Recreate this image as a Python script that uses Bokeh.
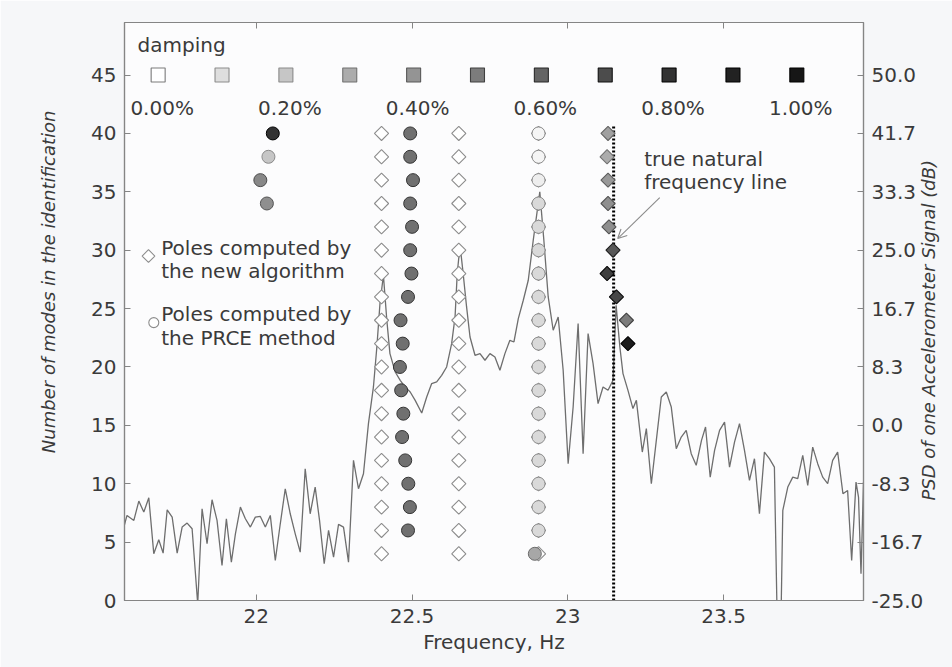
import math
from bokeh.plotting import figure
from bokeh.models import (Range1d, LinearAxis, FixedTicker, Label, Arrow, OpenHead,
                          ColumnDataSource, Title)
from bokeh.embed import file_html
from bokeh.resources import INLINE

# ---------------- data ----------------
# PSD of one accelerometer signal (right axis, dB) vs frequency (Hz)
psd_freq = [21.575, 21.585, 21.607, 21.623, 21.639, 21.655, 21.671, 21.687, 21.701, 21.714,
            21.730, 21.746, 21.762, 21.778, 21.794, 21.812, 21.826, 21.842, 21.858, 21.874,
            21.890, 21.904, 21.920, 21.933, 21.949, 21.965, 21.981, 21.997, 22.013, 22.029,
            22.045, 22.061, 22.077, 22.093, 22.109, 22.125, 22.141, 22.157, 22.173, 22.189,
            22.203, 22.218, 22.232, 22.248, 22.264, 22.280, 22.296, 22.312, 22.328, 22.344,
            22.360, 22.376, 22.387, 22.397, 22.408, 22.419, 22.429, 22.446, 22.462, 22.478,
            22.494, 22.510, 22.531, 22.547, 22.563, 22.579, 22.595, 22.611, 22.627, 22.638,
            22.645, 22.654, 22.664, 22.675, 22.686, 22.702, 22.718, 22.734, 22.750, 22.766,
            22.782, 22.798, 22.814, 22.827, 22.841, 22.857, 22.873, 22.889, 22.910, 22.923,
            22.937, 22.953, 22.969, 22.985, 23.001, 23.017, 23.033, 23.049, 23.065, 23.081,
            23.097, 23.113, 23.129, 23.145, 23.155, 23.167, 23.177, 23.193, 23.209, 23.220,
            23.231, 23.239, 23.252, 23.268, 23.284, 23.300, 23.316, 23.332, 23.348, 23.364,
            23.380, 23.396, 23.412, 23.429, 23.442, 23.457, 23.471, 23.487, 23.503, 23.519,
            23.535, 23.551, 23.567, 23.583, 23.599, 23.615, 23.631, 23.647, 23.663, 23.671,
            23.685, 23.690, 23.706, 23.722, 23.738, 23.754, 23.770, 23.786, 23.802, 23.818,
            23.834, 23.850, 23.866, 23.883, 23.898, 23.911, 23.925, 23.933, 23.941, 23.949]
psd_db = [-14.52, -12.86, -13.57, -10.81, -12.38, -10.33, -18.33, -16.33, -18.24, -12.05,
          -13.10, -18.24, -14.52, -13.95, -14.76, -25.5, -11.90, -16.90, -10.62, -13.57,
          -20.00, -13.33, -19.52, -15.48, -11.67, -13.33, -14.52, -13.10, -13.00, -14.52,
          -12.86, -19.29, -14.05, -9.05, -12.62, -15.48, -18.10, -6.19, -12.62, -8.81,
          -13.57, -19.76, -15.00, -18.81, -14.14, -14.52, -19.52, -5.00, -9.05, -6.90,
          0.24, 5.48, 11.19, 17.38, 21.43, 15.00, 10.24, 7.61, 6.43, 5.47,
          4.76, 3.57, 1.76, 4.04, 5.96, 6.19, 7.14, 8.33, 11.67, 15.47,
          21.67, 25.71, 21.67, 16.90, 12.61, 10.00, 10.24, 9.29, 10.24, 9.76,
          7.86, 10.24, 12.14, 11.90, 15.24, 17.86, 20.71, 26.43, 33.33, 26.43,
          18.33, 13.57, 15.47, 7.86, -5.47, 2.61, 14.53, -4.04, 13.10, 8.81,
          3.10, 5.47, 5.00, 6.43, 17.14, 11.19, 7.39, 5.00, 2.39, 3.57,
          -0.71, -3.81, -0.47, -8.33, -2.14, 4.04, 4.76, 2.61, -3.33, -1.67,
          -0.71, -4.04, -5.71, -2.14, -0.24, -7.39, -3.57, -0.71, 0.47, -5.96,
          -2.39, 0.24, -3.57, -7.86, -4.76, -12.61, -3.81, -4.76, -5.96, -25.5,
          -25.5, -12.14, -8.81, -7.39, -7.62, -4.29, -8.57, -3.10, -5.47, -7.39,
          -8.33, -5.00, -3.81, -9.76, -9.29, -19.29, -8.10, -10.24, -21.19, -8.10]

# damping scale (legend squares) and its labels
damping_levels = [0.0, 0.1, 0.2, 0.3, 0.4, 0.5, 0.6, 0.7, 0.8, 0.9, 1.0]
damping_grays = [255, 222, 198, 172, 148, 124, 100, 76, 50, 34, 22]
damping_label_levels = [0.0, 0.2, 0.4, 0.6, 0.8, 1.0]
damping_labels = ["0.00%", "0.20%", "0.40%", "0.60%", "0.80%", "1.00%"]

# poles computed by the new algorithm (diamonds)
new_freq = [22.402] * 19 + [22.650] * 19 + [22.906] * 19 + \
           [23.129, 23.126, 23.129, 23.129, 23.132, 23.145, 23.126, 23.156, 23.188, 23.193]
new_modes = [40, 38, 36, 34, 32, 30, 28, 26, 24, 22, 20, 18, 16, 14, 12, 10, 8, 6, 4] * 3 + \
            [40, 38, 36, 34, 32, 30, 28, 26, 24, 22]
new_damp = [0.0] * 57 + [0.35, 0.30, 0.38, 0.42, 0.42, 0.65, 0.75, 0.72, 0.50, 0.95]

# poles computed by the PRCE method (circles)
prce_freq = [22.053, 22.039, 22.013, 22.034,
             22.494, 22.494, 22.503, 22.494, 22.500, 22.494, 22.498, 22.487, 22.463,
             22.470, 22.461, 22.465, 22.472, 22.468, 22.478, 22.488, 22.493, 22.487,
             22.906, 22.906, 22.906, 22.906, 22.906, 22.906, 22.906, 22.906, 22.906,
             22.906, 22.906, 22.906, 22.906, 22.906, 22.906, 22.906, 22.906, 22.906, 22.894]
prce_modes = [40, 38, 36, 34,
              40, 38, 36, 34, 32, 30, 28, 26, 24, 22, 20, 18, 16, 14, 12, 10, 8, 6,
              40, 38, 36, 34, 32, 30, 28, 26, 24, 22, 20, 18, 16, 14, 12, 10, 8, 6, 4]
prce_damp = [0.80, 0.20, 0.45, 0.42] + [0.55] * 18 + [0.03, 0.03, 0.05] + [0.12] * 15 + [0.32]

true_freq = 23.147
true_line_top = 40.6

left_ticks = [0, 5, 10, 15, 20, 25, 30, 35, 40, 45]
right_tick_labels = ["-25.0", "-16.7", "-8.3", "0.0", "8.3", "16.7", "25.0", "33.3", "41.7", "50.0"]
x_ticks = [22, 22.5, 23, 23.5]
x_tick_labels = ["22", "22.5", "23", "23.5"]

# ---------------- styling ----------------
FONT = "DejaVu Sans"
FS = "20px"
FS_ROT = "18px"
TXT = "#3a3a3a"
AX = "#858585"


def gray_for(d):
    # linear interpolation in the damping colour scale
    d = max(0.0, min(1.0, d))
    i = min(int(d * 10), 9)
    t = d * 10 - i
    g = int(round(damping_grays[i] + (damping_grays[i + 1] - damping_grays[i]) * t))
    return "#%02x%02x%02x" % (g, g, g)


def edge_for(d):
    g = int(gray_for(d)[1:3], 16)
    e = max(0, min(140, g - 60))
    return "#%02x%02x%02x" % (e, e, e)


# right axis: -25 dB at 0 modes, 50 dB at 45 modes
y_top = 49.5
db_per_mode = 75.0 / 45.0
psd_lo = -25.0
psd_hi = psd_lo + y_top * db_per_mode

p = figure(width=952, height=667, output_backend="svg", toolbar_location=None,
           x_range=Range1d(21.577, 23.949), y_range=Range1d(0, y_top),
           min_border_left=124, min_border_right=88, min_border_top=22, min_border_bottom=67)
p.background_fill_color = "#fcfcfd"
p.border_fill_color = "#f6f7f9"
p.outline_line_color = AX
p.outline_line_width = 1.2
p.xgrid.visible = False
p.ygrid.visible = False
# psd: right axis values; lbl: helper range (one unit per pixel, 0 near the bottom)
# used only to place the upward-reading right-hand title
p.extra_y_ranges = {"psd": Range1d(psd_lo, psd_hi), "lbl": Range1d(-100, 478)}


def style_axis(ax):
    ax.major_tick_in = 6
    ax.major_tick_out = 0
    ax.minor_tick_line_color = None
    ax.axis_line_color = AX
    ax.axis_line_width = 1.2
    ax.major_tick_line_color = AX
    ax.major_label_text_font = FONT
    ax.major_label_text_font_size = FS
    ax.major_label_text_color = TXT
    ax.axis_label_text_font = FONT
    ax.axis_label_text_color = TXT


xa = p.xaxis[0]
style_axis(xa)
xa.ticker = FixedTicker(ticks=x_ticks)
xa.major_label_overrides = {t: s for t, s in zip(x_ticks, x_tick_labels)}
xa.major_label_standoff = 8
xa.axis_label = "Frequency, Hz"
xa.axis_label_text_font_size = FS
xa.axis_label_text_font_style = "normal"
xa.axis_label_standoff = 4

ya = p.yaxis[0]
style_axis(ya)
ya.ticker = FixedTicker(ticks=left_ticks)
ya.major_label_standoff = 8

right_ticks = [psd_lo + k * 25.0 / 3.0 for k in range(len(right_tick_labels))]
ra = LinearAxis(y_range_name="psd", ticker=FixedTicker(ticks=right_ticks))
style_axis(ra)
ra.major_label_overrides = {t: s for t, s in zip(right_ticks, right_tick_labels)}
ra.major_label_standoff = 8
p.add_layout(ra, "right")

# left title: reads upwards, placed a little above the middle
p.add_layout(Title(text="Number of modes in the identification", align="right", offset=88,
                   standoff=60, vertical_align="bottom", text_font=FONT,
                   text_font_size=FS_ROT, text_font_style="italic", text_color=TXT), "left")

# right title: a single rotated tick label of a helper axis (reads upwards)
rt = LinearAxis(y_range_name="lbl", ticker=FixedTicker(ticks=[0]))
rt.major_label_overrides = {0: "PSD of one Accelerometer Signal (dB)"}
rt.major_label_orientation = math.pi / 2
rt.axis_line_color = None
rt.major_tick_line_color = None
rt.minor_tick_line_color = None
rt.major_tick_in = 0
rt.major_tick_out = 0
rt.major_label_standoff = 2
rt.major_label_text_font = FONT
rt.major_label_text_font_size = FS_ROT
rt.major_label_text_font_style = "italic"
rt.major_label_text_color = TXT
p.add_layout(rt, "right")

ta = LinearAxis(ticker=FixedTicker(ticks=x_ticks))
style_axis(ta)
ta.major_label_overrides = {t: "" for t in x_ticks}
ta.major_label_text_font_size = "6px"
ta.major_label_standoff = 0
p.add_layout(ta, "above")

# PSD line
p.line(psd_freq, psd_db, y_range_name="psd", line_color="#6e6e6e", line_width=1.3)

# true natural frequency (dotted)
p.line([true_freq, true_freq], [0, true_line_top], line_color="black", line_width=3,
       line_dash="2 2")

# poles: new algorithm (diamonds = squares turned by 45 degrees)
src_new = ColumnDataSource(dict(x=new_freq, y=new_modes,
                                fill=[gray_for(d) for d in new_damp],
                                edge=[edge_for(d) if d > 0 else "#8c8c8c" for d in new_damp]))
p.scatter("x", "y", source=src_new, marker="square", angle=math.pi / 4, size=10,
          fill_color="fill", line_color="edge", line_width=1.1)

# poles: PRCE (circles)
src_prce = ColumnDataSource(dict(x=prce_freq, y=prce_modes,
                                 fill=[gray_for(d) for d in prce_damp],
                                 edge=[edge_for(d) for d in prce_damp]))
p.scatter("x", "y", source=src_prce, marker="circle", size=13, fill_color="fill",
          line_color="edge", line_width=1.0)

# damping scale (legend squares)
sq_x0, sq_step = 21.685, 0.205
sq_x = [sq_x0 + i * sq_step for i in range(len(damping_levels))]
sq_y = [45] * len(damping_levels)
p.scatter(sq_x, sq_y, marker="square", size=14,
          fill_color=[gray_for(d) for d in damping_levels],
          line_color=[edge_for(d) if d > 0 else "#7a7a7a" for d in damping_levels], line_width=1.1)
for lev, lab in zip(damping_label_levels, damping_labels):
    p.add_layout(Label(x=sq_x0 + lev * 10 * sq_step, y=42.2, text=lab, text_font=FONT,
                       text_font_size=FS, text_color=TXT, text_align="center",
                       text_baseline="middle", x_offset=4))
p.add_layout(Label(x=21.619, y=47.6, text="damping", text_font=FONT, text_font_size=FS,
                   text_color=TXT, text_align="left", text_baseline="middle"))

# in-plot legend
p.scatter([21.654], [29.5], marker="square", angle=math.pi / 4, size=9, fill_color="white",
          line_color="#8c8c8c", line_width=1.1)
p.scatter([21.671], [23.8], marker="circle", size=10, fill_color="white",
          line_color="#8c8c8c", line_width=1.1)
for yy, tt in [(30.2, "Poles computed by"), (28.2, "the new algorithm"),
               (24.5, "Poles computed by"), (22.5, "the PRCE method")]:
    p.add_layout(Label(x=21.695, y=yy, text=tt, text_font=FONT, text_font_size=FS,
                       text_color=TXT, text_align="left", text_baseline="middle"))

# annotation
for yy, tt in [(37.8, "true natural"), (35.8, "frequency line")]:
    p.add_layout(Label(x=23.245, y=yy, text=tt, text_font=FONT, text_font_size=FS,
                       text_color=TXT, text_align="left", text_baseline="middle"))
p.add_layout(Arrow(end=OpenHead(size=9, line_color="#8a8a8a", line_width=1.1),
                   x_start=23.295, y_start=34.5, x_end=23.160, y_end=31.0,
                   line_color="#8a8a8a", line_width=1.1))

open("out.html", "w").write(file_html(p, INLINE))
